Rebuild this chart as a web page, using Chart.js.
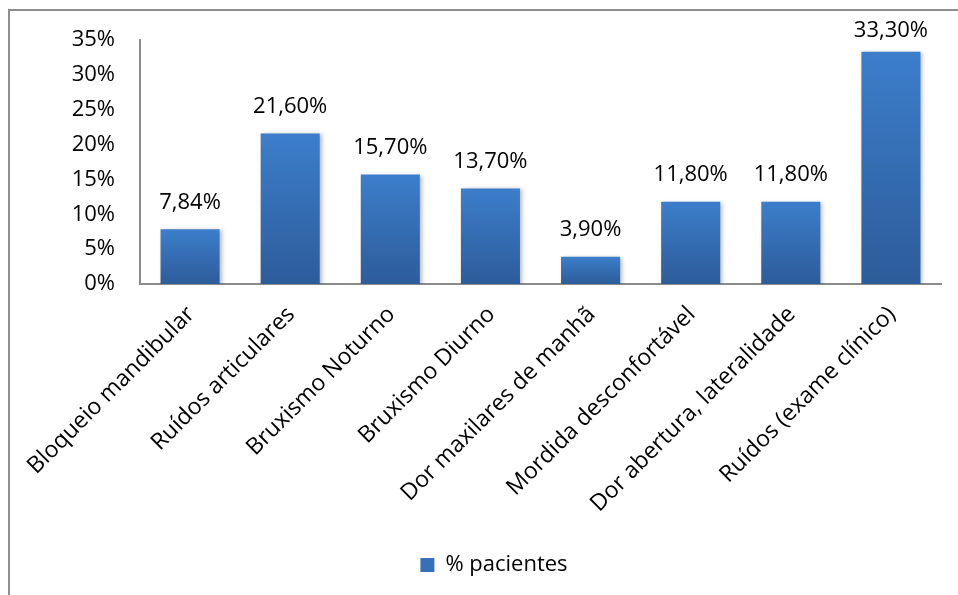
<!DOCTYPE html>
<html>
<head>
<meta charset="utf-8">
<script src="https://cdn.jsdelivr.net/npm/chart.js@4.4.0/dist/chart.umd.min.js"></script>
<style>
    html, body { margin: 0; padding: 0; background: #fff; overflow: hidden; }
    #wrap { position: relative; width: 958px; height: 595px; }
    #frame {
        position: absolute; left: 8px; top: 9px; width: 980px; height: 620px;
        border: 2px solid #8e8e8e; box-sizing: border-box;
    }
    canvas { position: absolute; left: 0; top: 0; }
</style>
</head>
<body>
<div id="wrap">
    <div id="frame"></div>
    <canvas id="barChart" width="958" height="595"></canvas>
</div>
<script>
// Chart data
const categories = [
    'Bloqueio mandibular',
    'Ruídos articulares',
    'Bruxismo Noturno',
    'Bruxismo Diurno',
    'Dor maxilares de manhã',
    'Mordida desconfortável',
    'Dor abertura, lateralidade',
    'Ruídos (exame clínico)'
];
const pacientes = [7.84, 21.6, 15.7, 13.7, 3.9, 11.8, 11.8, 33.3];
const valueLabels = ['7,84%', '21,60%', '15,70%', '13,70%', '3,90%', '11,80%', '11,80%', '33,30%'];
const seriesName = '% pacientes';

const FONT = "'Open Sans', sans-serif";
const colors = {
    barTop: '#3c7ecb',
    barBottom: '#2d5c9a',
    legend: '#3670b8',
    axis: '#8c8c8c',
    text: '#000000'
};

// gradient per bar, light at the top, darker at the base
function barGradient(context) {
    const chart = context.chart;
    const yScale = chart.scales.y;
    if (!chart.chartArea || !yScale) return colors.barTop;
    const top = yScale.getPixelForValue(context.raw);
    const base = yScale.getPixelForValue(0);
    if (!isFinite(top) || !isFinite(base) || top === base) return colors.barTop;
    const g = chart.ctx.createLinearGradient(0, top, 0, base);
    g.addColorStop(0, colors.barTop);
    g.addColorStop(1, colors.barBottom);
    return g;
}

// soft shadow under the bars
const barShadow = {
    id: 'barShadow',
    beforeDatasetsDraw(chart) {
        const ctx = chart.ctx;
        ctx.save();
        ctx.shadowColor = 'rgba(0,0,0,0.28)';
        ctx.shadowBlur = 4;
        ctx.shadowOffsetX = 2;
        ctx.shadowOffsetY = 1;
    },
    afterDatasetsDraw(chart) {
        chart.ctx.restore();
    }
};

// value labels above each bar (kept from running off the top, like Excel does)
const valueLabelPlugin = {
    id: 'valueLabels',
    afterDraw(chart) {
        const ctx = chart.ctx;
        const meta = chart.getDatasetMeta(0);
        const minY = chart.chartArea.top - 9;
        ctx.save();
        ctx.font = '22px ' + FONT;
        ctx.fillStyle = colors.text;
        ctx.textAlign = 'center';
        ctx.textBaseline = 'middle';
        meta.data.forEach((bar, i) => {
            ctx.fillText(valueLabels[i], bar.x, Math.max(bar.y - 27, minY));
        });
        ctx.restore();
    }
};

function createChart() {
    const ctx = document.getElementById('barChart').getContext('2d');
    new Chart(ctx, {
        type: 'bar',
        data: {
            labels: categories,
            datasets: [{
                label: seriesName,
                data: pacientes,
                backgroundColor: barGradient,
                borderWidth: 0,
                barPercentage: 0.59,
                categoryPercentage: 1.0
            }]
        },
        options: {
            responsive: false,
            animation: false,
            layout: {
                padding: { left: 47, right: 17, top: 40, bottom: 9 }
            },
            plugins: {
                tooltip: { enabled: false },
                legend: {
                    display: true,
                    position: 'bottom',
                    labels: {
                        font: { family: FONT, size: 22 },
                        color: colors.text,
                        boxWidth: 14,
                        boxHeight: 14,
                        padding: 10,
                        generateLabels: () => [{
                            text: seriesName,
                            fillStyle: colors.legend,
                            strokeStyle: colors.legend,
                            lineWidth: 0,
                            datasetIndex: 0
                        }]
                    }
                }
            },
            scales: {
                x: {
                    grid: { display: false, drawTicks: false },
                    border: { display: true, color: colors.axis, width: 2 },
                    ticks: {
                        font: { family: FONT, size: 23 },
                        color: colors.text,
                        maxRotation: 45,
                        minRotation: 45,
                        autoSkip: false,
                        padding: 17,
                        labelOffset: 1
                    },
                    afterFit(scale) {
                        scale.height = 260;
                        scale.paddingLeft = 0;
                        scale.paddingRight = 0;
                    }
                },
                y: {
                    min: 0,
                    max: 35,
                    grid: { display: false, drawTicks: false },
                    border: { display: true, color: colors.axis, width: 2 },
                    ticks: {
                        stepSize: 5,
                        font: { family: FONT, size: 22 },
                        color: colors.text,
                        padding: 25,
                        callback: v => v + '%'
                    },
                    afterFit(scale) { scale.width = 93; }
                }
            }
        },
        plugins: [barShadow, valueLabelPlugin]
    });
}

createChart();
</script>
</body>
</html>
